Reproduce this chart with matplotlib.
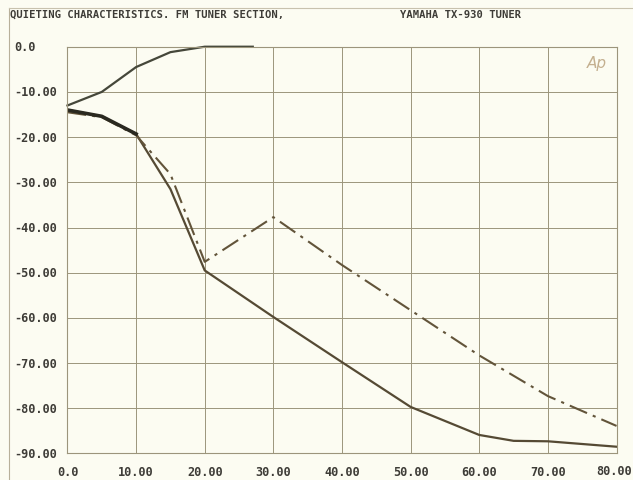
import numpy as np
import matplotlib
matplotlib.use('Agg')
import matplotlib.pyplot as plt
from matplotlib.lines import Line2D

# signal level (dB) vs. RF input
sig_x = [0, 5, 10, 15, 20, 27]
sig_y = [-13.0, -10.0, -4.5, -1.2, 0.0, 0.0]

# mono noise
mono_x = [0, 5, 10, 15, 20, 30, 40, 50, 60, 65, 70, 80]
mono_y = [-14.0, -15.4, -19.3, -31.5, -49.5, -59.8, -69.8, -79.7,
          -85.9, -87.2, -87.3, -88.5]

# stereo noise
stereo_x = [0, 5, 10, 15, 20, 30, 40, 50, 60, 70, 80]
stereo_y = [-14.5, -15.6, -19.6, -28.2, -47.6, -37.7, -48.3, -58.3,
            -68.3, -77.3, -83.9]

xticks = [0, 10, 20, 30, 40, 50, 60, 70, 80]
xtick_labels = ['0.0', '10.00', '20.00', '30.00', '40.00', '50.00',
                '60.00', '70.00', '80.00']
yticks = [0, -10, -20, -30, -40, -50, -60, -70, -80, -90]
ytick_labels = ['0.0', '-10.00', '-20.00', '-30.00', '-40.00', '-50.00',
                '-60.00', '-70.00', '-80.00', '-90.00']

bg = '#fcfcf2'
grid_c = '#9c957c'
ink = '#1c1a16'

fig = plt.figure(figsize=(6.33, 4.81), dpi=100)
fig.patch.set_facecolor(bg)
ax = fig.add_axes([0.1066, 0.0551, 0.8674, 0.8457])
ax.set_facecolor(bg)

ax.set_xlim(0, 80)
ax.set_ylim(-90, 0)
ax.set_xticks(xticks)
ax.set_yticks(yticks)
ax.grid(True, color=grid_c, lw=0.7)
ax.tick_params(length=0, labelleft=False, labelbottom=False)
for sp in ax.spines.values():
    sp.set_color(grid_c)
    sp.set_linewidth(0.8)

ax.plot(sig_x, sig_y, color='#45473a', lw=1.6, clip_on=False)
ax.plot(mono_x, mono_y, color='#554a34', lw=1.6)
ax.plot(stereo_x, stereo_y, color='#62543a', lw=1.5,
        dashes=(9, 3, 1.5, 3))
# heavier trace where the curves overlap at low input
ax.plot(mono_x[:3], mono_y[:3], color='#2a2920', lw=2.6)

# tick labels drawn in plotter style
mono = 'DejaVu Sans Mono'
lab = dict(family=mono, fontsize=8.6, color=ink, fontweight='bold', alpha=0.85)
for v, s in zip(yticks, ytick_labels):
    fig.text(14 / 633, ax.transData.transform((0, v))[1] / 481, s,
             va='center', ha='left', **lab)
for v, s in zip(xticks, xtick_labels):
    if v == xticks[-1]:
        # last label sits against the right edge of the sheet
        fig.text(632 / 633, 1 - 472 / 481, s, ha='right', va='center', **lab)
    else:
        ax.text(v, -94.0, s, ha='center', va='center', clip_on=False, **lab)

fig.text(10 / 633, 1 - 15 / 481, 'QUIETING CHARACTERISTICS. FM TUNER SECTION,',
         family=mono, fontsize=7.6, color=ink, va='center', ha='left',
         fontweight='bold', alpha=0.85)
fig.text(400 / 633, 1 - 15 / 481, 'YAMAHA TX-930 TUNER',
         family=mono, fontsize=7.6, color=ink, va='center', ha='left',
         fontweight='bold', alpha=0.85)
ax.text(78.6, -3.6, 'Ap', fontsize=11, style='italic', color='#c4b090',
        ha='right', va='center')

# page border of the printout
fig.add_artist(Line2D([9 / 633, 9 / 633], [0, 1 - 9 / 481],
                      transform=fig.transFigure, color='#b8b09a', lw=0.8))
fig.add_artist(Line2D([9 / 633, 1], [1 - 9 / 481, 1 - 9 / 481],
                      transform=fig.transFigure, color='#c8c2ae', lw=0.8))

fig.savefig('out.png', dpi=100, facecolor=bg)
